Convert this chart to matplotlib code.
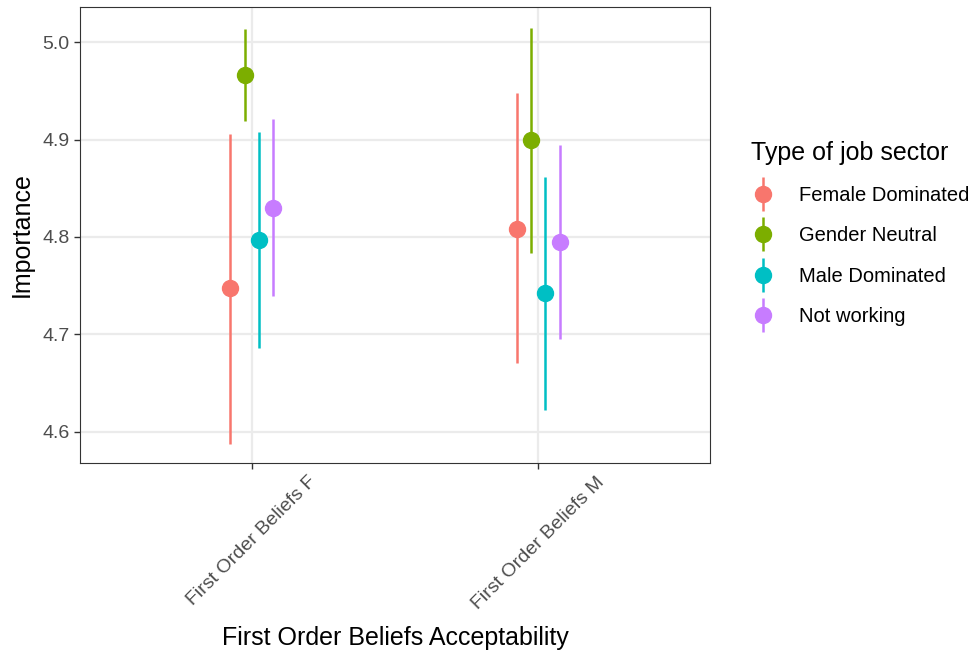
import matplotlib
matplotlib.use("Agg")
import matplotlib.pyplot as plt
from matplotlib.lines import Line2D
import numpy as np

plt.rcParams['font.family'] = ['Liberation Sans', 'DejaVu Sans']

groups = ['First Order Beliefs F', 'First Order Beliefs M']
sectors = ['Female Dominated', 'Gender Neutral', 'Male Dominated', 'Not working']
colors = ['#F8766D', '#7CAE00', '#00BFC4', '#C77CFF']

# mean, lower, upper per sector, one value per group
means = [[4.748, 4.808], [4.966, 4.899], [4.797, 4.742], [4.830, 4.795]]
lowers = [[4.588, 4.671], [4.919, 4.784], [4.686, 4.622], [4.739, 4.695]]
uppers = [[4.906, 4.948], [5.013, 5.014], [4.908, 4.862], [4.921, 4.894]]

offsets = [-0.075, -0.025, 0.025, 0.075]

fig = plt.figure(figsize=(9.79, 6.54), dpi=100)
ax = fig.add_axes([80/979, (654-463)/654, 630/979, 456/654])

x = np.arange(1, len(groups) + 1)
handles = []
for i, s in enumerate(sectors):
    m = np.array(means[i])
    lo = m - np.array(lowers[i])
    hi = np.array(uppers[i]) - m
    ax.errorbar(x + offsets[i], m, yerr=[lo, hi], fmt='o', color=colors[i],
                ms=11.5, elinewidth=1.8, capsize=0, zorder=3)
    bar = Line2D([], [], ls='none', marker='|', ms=24, mew=1.8, color=colors[i])
    dot = Line2D([], [], ls='none', marker='o', ms=11.5, color=colors[i])
    handles.append((bar, dot))

ax.set_xlim(0.4, 2.6)
ax.set_ylim(4.568, 5.036)
ax.set_xticks(x)
ax.set_xticklabels(groups, rotation=45, ha='center', va='top')
ax.set_yticks([4.6, 4.7, 4.8, 4.9, 5.0])
ax.set_yticklabels(['4.6', '4.7', '4.8', '4.9', '5.0'])
ax.grid(True, color='#EBEBEB', linewidth=1.6)
ax.set_axisbelow(True)
for sp in ax.spines.values():
    sp.set_color('#333333')
    sp.set_linewidth(0.8)
ax.tick_params(colors='#333333', labelcolor='#4D4D4D', labelsize=14, length=4, width=1)

ax.set_xlabel('First Order Beliefs Acceptability', fontsize=18, labelpad=10)
ax.set_ylabel('Importance', fontsize=18, labelpad=6)

leg = fig.legend(handles=handles, labels=sectors, loc='upper left',
                 bbox_to_anchor=(733/979, 1 - 123/654), frameon=False,
                 title='Type of job sector', title_fontsize=18, fontsize=14.5,
                 labelspacing=1.05, handlelength=1.2, handletextpad=1.2)
leg._legend_box.align = 'left'

fig.savefig('out.png', dpi=100)
